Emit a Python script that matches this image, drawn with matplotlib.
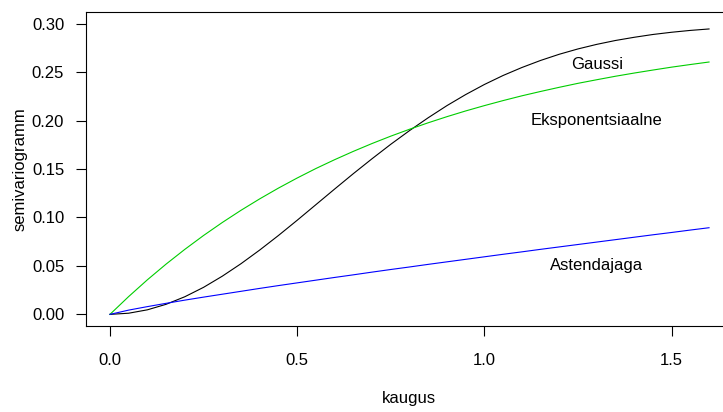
import matplotlib
matplotlib.use("Agg")
import matplotlib.pyplot as plt

plt.rcParams['font.family'] = ['Liberation Sans', 'DejaVu Sans']

# ---------- data (every 0.05 of distance) ----------
kaugus = [0.00, 0.05, 0.10, 0.15, 0.20, 0.25, 0.30, 0.35, 0.40, 0.45, 0.50,
          0.55, 0.60, 0.65, 0.70, 0.75, 0.80, 0.85, 0.90, 0.95, 1.00,
          1.05, 1.10, 1.15, 1.20, 1.25, 1.30, 1.35, 1.40, 1.45, 1.50,
          1.55, 1.60]
gaussi = [0.0000, 0.0012, 0.0047, 0.0104, 0.0182, 0.0279, 0.0394, 0.0523,
          0.0664, 0.0814, 0.0971, 0.1132, 0.1293, 0.1452, 0.1606, 0.1755,
          0.1896, 0.2029, 0.2154, 0.2268, 0.2372, 0.2465, 0.2547, 0.2620,
          0.2684, 0.2739, 0.2786, 0.2826, 0.2859, 0.2888, 0.2911, 0.2930,
          0.2945]
eksponentsiaalne = [0.0000, 0.0184, 0.0357, 0.0519, 0.0671, 0.0814, 0.0948,
                    0.1074, 0.1192, 0.1303, 0.1407, 0.1505, 0.1596, 0.1682,
                    0.1763, 0.1839, 0.1910, 0.1977, 0.2040, 0.2099, 0.2154,
                    0.2206, 0.2255, 0.2300, 0.2343, 0.2384, 0.2421, 0.2457,
                    0.2490, 0.2521, 0.2551, 0.2578, 0.2604]
astendajaga = [0.0000, 0.0044, 0.0080, 0.0114, 0.0147, 0.0178, 0.0208,
               0.0238, 0.0268, 0.0297, 0.0325, 0.0353, 0.0381, 0.0408,
               0.0436, 0.0463, 0.0489, 0.0516, 0.0542, 0.0568, 0.0594,
               0.0620, 0.0645, 0.0671, 0.0696, 0.0721, 0.0746, 0.0771,
               0.0796, 0.0821, 0.0845, 0.0870, 0.0894]

x_ticks = [0.0, 0.5, 1.0, 1.5]
y_ticks = [0.00, 0.05, 0.10, 0.15, 0.20, 0.25, 0.30]

# ---------- figure ----------
W, H = 723, 412
fig = plt.figure(figsize=(W / 100, H / 100), dpi=100)
# plot region runs past the right edge of the picture (cropped R plot)
left, right, top, bottom = 86, 733, 12, 326
ax = fig.add_axes([left / W, 1 - bottom / H, (right - left) / W, (bottom - top) / H])

ax.plot(kaugus, gaussi, color="black", lw=0.8)
ax.plot(kaugus, eksponentsiaalne, color="#00CD00", lw=0.8)
ax.plot(kaugus, astendajaga, color="blue", lw=0.8)

ax.text(1.3, 0.258, "Gaussi", ha="center", va="center", fontsize=12)
ax.text(1.3, 0.200, "Eksponentsiaalne", ha="center", va="center", fontsize=12)
ax.text(1.3, 0.050, "Astendajaga", ha="center", va="center", fontsize=12)

ax.set_xlim(-0.064, 1.664)
ax.set_ylim(-0.012, 0.312)
ax.set_xticks(x_ticks)
ax.set_xticklabels([f"{v:.1f}" for v in x_ticks])
ax.set_yticks(y_ticks)
ax.set_yticklabels([f"{v:.2f}" for v in y_ticks])

for s in ax.spines.values():
    s.set_linewidth(0.8)
ax.tick_params(axis="both", direction="out", length=7.2, width=0.8, labelsize=12)
ax.tick_params(axis="x", pad=12.5)
ax.tick_params(axis="y", pad=8.5)

fig.text(409 / W, 1 - 399 / H, "kaugus", ha="center", va="center", fontsize=12)
fig.text(20 / W, 1 - 169 / H, "semivariogramm", ha="center", va="center",
         rotation=90, fontsize=12)

fig.savefig("out.png", dpi=100)
